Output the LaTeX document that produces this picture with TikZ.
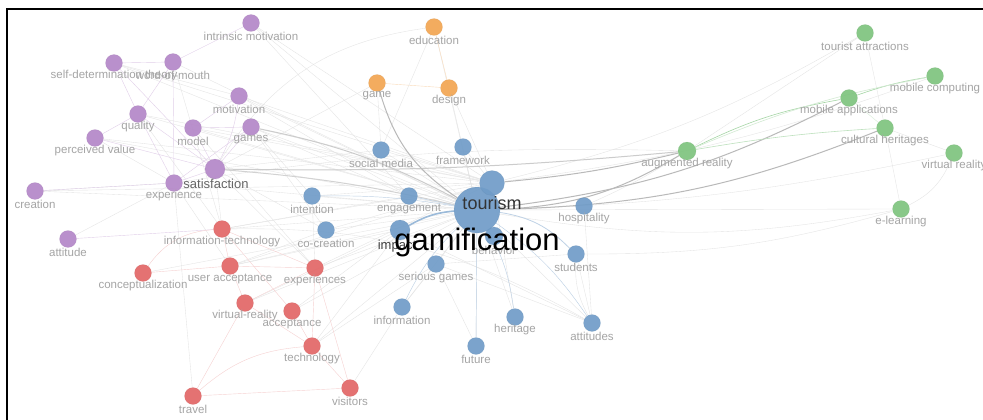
\documentclass[tikz,border=0pt]{standalone}
\usepackage{fontspec}
\setmainfont{Liberation Sans}
\usetikzlibrary{backgrounds}
\definecolor{purp}{RGB}{180,135,200}
\definecolor{blu}{RGB}{112,156,200}
\definecolor{rd}{RGB}{226,102,102}
\definecolor{grn}{RGB}{126,196,126}
\definecolor{org}{RGB}{242,166,82}
\definecolor{labc}{RGB}{165,165,165}
\begin{document}
\begin{tikzpicture}[x=1pt,y=-1pt,
  bub/.style={circle,inner sep=0pt,minimum size=17pt,fill=#1,fill opacity=0.92,draw=#1!85!black,draw opacity=0.25,line width=0.4pt},
  lab/.style={text=labc,font=\fontsize{11.5}{11.5}\selectfont,inner sep=0pt},
  e/.style={draw=gray!22,line width=0.35pt},
  eg/.style={draw=gray!55,line width=1pt},
  ep/.style={draw=purp!40,line width=0.4pt},
  er/.style={draw=rd!30,line width=0.4pt},
  eb/.style={draw=blu!45,line width=0.45pt},
  egr/.style={draw=grn!70,line width=0.6pt},
  eo/.style={draw=org!40,line width=0.4pt}]
\useasboundingbox (0,0) rectangle (983,420);

% nodes: purple
\node[bub=purp] (intr) at (251,23) {};
\node[bub=purp] (sdt) at (114,63) {};
\node[bub=purp] (wom) at (173,62) {};
\node[bub=purp] (mot) at (239,96) {};
\node[bub=purp] (qual) at (138,114) {};
\node[bub=purp] (model) at (193,128) {};
\node[bub=purp] (games) at (251,127) {};
\node[bub=purp] (pv) at (95,138) {};
\node[bub=purp,minimum size=20pt] (sat) at (215,169) {};
\node[bub=purp] (exp) at (174,183) {};
\node[bub=purp] (creat) at (35,191) {};
\node[bub=purp] (att) at (68,239) {};
% orange
\node[bub=org] (edu) at (434,27) {};
\node[bub=org] (game) at (377,83) {};
\node[bub=org] (design) at (449,88) {};
% blue
\node[bub=blu] (smed) at (381,150) {};
\node[bub=blu] (frame) at (463,147) {};
\node[bub=blu] (inten) at (312,196) {};
\node[bub=blu] (eng) at (409,196) {};
\node[bub=blu,minimum size=18pt] (beh) at (494,236) {};
\node[bub=blu,minimum size=20pt] (imp) at (400,230) {};
\node[bub=blu,minimum size=46pt] (gam) at (477,210) {};
\node[bub=blu,minimum size=25pt] (tour) at (492,183) {};
\node[bub=blu] (cocr) at (326,230) {};
\node[bub=blu] (hosp) at (584,206) {};
\node[bub=blu] (stud) at (576,254) {};
\node[bub=blu] (sg) at (436,264) {};
\node[bub=blu] (info) at (402,307) {};
\node[bub=blu] (her) at (515,317) {};
\node[bub=blu] (atts) at (592,323) {};
\node[bub=blu] (fut) at (476,346) {};
% red
\node[bub=rd] (itech) at (222,229) {};
\node[bub=rd] (ua) at (230,266) {};
\node[bub=rd] (conc) at (143,273) {};
\node[bub=rd] (exps) at (315,268) {};
\node[bub=rd] (vr) at (245,303) {};
\node[bub=rd] (acc) at (292,311) {};
\node[bub=rd] (tech) at (312,346) {};
\node[bub=rd] (vis) at (350,388) {};
\node[bub=rd] (trav) at (193,396) {};
% green
\node[bub=grn] (ta) at (865,33) {};
\node[bub=grn] (mc) at (935,76) {};
\node[bub=grn] (ma) at (849,98) {};
\node[bub=grn] (ch) at (885,128) {};
\node[bub=grn,minimum size=18pt] (ar) at (687,151) {};
\node[bub=grn] (vrr) at (954,153) {};
\node[bub=grn] (el) at (901,209) {};

% edges
\begin{pgfonlayer}{background}
\fill[white] (0,0) rectangle (983,420);
\foreach \a/\b in {sdt/gam,wom/gam,mot/gam,games/gam,games/tour,model/gam,qual/gam,pv/gam,creat/gam,intr/gam,intr/eng,games/eng,exp/gam,mot/tour,sdt/tour,qual/tour,model/tour,pv/tour,creat/tour,
  inten/gam,smed/gam,frame/gam,cocr/gam,hosp/gam,sg/gam,info/gam,her/gam,atts/gam,fut/gam,itech/gam,ua/gam,exps/gam,vr/gam,acc/gam,tech/gam,
  vis/info,tech/sg,exps/tour,itech/tour,ua/tour,cocr/tour,inten/tour,smed/tour,edu/gam,design/gam,design/tour,frame/tour,
  gam/el,stud/atts,hosp/atts,sg/atts,imp/atts,sat/itech,sat/cocr,sat/exps,exp/ua,exp/trav,games/inten,games/cocr,mot/eng,wom/itech,model/exps,qual/itech,
  inten/exps,cocr/ua,itech/eng,sg/stud,info/sg,fut/sg,her/tour,intr/tour,sdt/mot,pv/exp,smed/sat,game/smed,game/sat,edu/smed,creat/exp,att/exp,conc/gam,ua/imp,vr/imp,acc/imp,tech/imp}
  \draw[e] (\a) -- (\b);
\draw[e] (tour) to[bend right=8] (ta);
\draw[e] (tour) to[bend right=6] (mc);
\draw[e] (gam) to[bend right=5] (vrr);
\draw[e] (gam) to[bend right=10] (el);
\draw[e] (stud) to[bend right=8] (el);
\draw[e] (hosp) to[bend right=4] (ar);
\draw[e] (exp) to[bend left=5] (ar);
\draw[e] (ta) -- (ch);
\draw[e] (ch) -- (vrr);
\draw[e] (ch) -- (el);
\draw[e] (vrr) to[bend left=20] (el);
\draw[e] (ar) -- (ta);
\draw[e] (edu) to[bend right=25] (sat);
\draw[e] (stud) to[bend right=15] (atts);
\draw[e] (itech) to[bend left=15] (atts);
\draw[eg] (gam) to[bend right=14] (ar);
\draw[eg] (gam) to[bend right=10] (ch);
\draw[eg] (gam) to[bend right=10] (ma);
\draw[eg] (tour) to[bend right=4] (ar);
\draw[eg,draw=gray!40] (sat) to[bend right=3] (ar);
\draw[eg] (game) to[bend right=20] (gam);
\draw[eg,draw=gray!40] (games) to[bend left=8] (gam);
\draw[eg,draw=gray!35] (sat) to[bend left=4] (gam);
\draw[eb,line width=2pt,draw=blu!75] (gam) -- (tour);
\draw[eb,line width=1.6pt,draw=blu!70] (imp) to[bend left=12] (gam);
\draw[eb,line width=0.8pt] (gam) to[bend left=18] (stud);
\draw[eb] (eng) -- (gam);
\draw[eb] (inten) to[bend left=5] (gam);
\draw[eb] (beh) -- (gam);
\draw[eb] (gam) to[bend left=10] (her);
\draw[eb] (gam) -- (fut);
\draw[eb] (gam) to[bend right=10] (info);
\draw[eb] (gam) to[bend left=10] (atts);
\draw[ep] (sat) -- (exp);
\draw[ep] (sat) to[bend right=10] (mot);
\draw[ep] (sat) -- (qual);
\draw[ep] (sat) -- (games);
\draw[ep] (sat) -- (model);
\draw[ep] (sat) -- (pv);
\draw[ep] (model) -- (games);
\draw[ep] (qual) -- (pv);
\draw[ep] (sdt) -- (wom);
\draw[ep] (sdt) -- (qual);
\draw[ep] (wom) -- (qual);
\draw[ep] (wom) -- (exp);
\draw[ep] (intr) -- (wom);
\draw[ep] (qual) -- (exp);
\draw[ep] (exp) -- (games);
\draw[ep] (exp) -- (creat);
\draw[ep] (sdt) -- (sat);
\draw[ep] (mot) -- (model);
\draw[ep] (att) -- (itech);
\draw[er] (conc) -- (ua);
\draw[er] (conc) to[bend left=25] (itech);
\draw[er] (ua) -- (exps);
\draw[er] (ua) -- (vr);
\draw[er] (itech) -- (ua);
\draw[er] (itech) -- (acc);
\draw[er] (vr) -- (tech);
\draw[er] (vr) -- (exps);
\draw[er] (acc) -- (tech);
\draw[er] (exps) -- (tech);
\draw[er] (exps) -- (vis);
\draw[er] (tech) -- (vis);
\draw[er] (trav) to[bend left=18] (tech);
\draw[er] (trav) -- (vis);
\draw[er] (trav) -- (vr);
\draw[er] (itech) -- (exps);
\draw[egr] (ar) to[bend left=8] (ma);
\draw[egr,draw=grn!50] (ar) to[bend left=3] (ch);
\draw[egr] (ma) to[bend left=5] (mc);
\draw[egr,draw=grn!35] (ar) to[bend left=6] (mc);
\draw[egr,draw=grn!30,line width=0.4pt] (ma) -- (ch);
\draw[eo] (edu) -- (design);
\draw[eo] (game) -- (design);
\end{pgfonlayer}

\draw[black,line width=1.5pt] (983,9) coordinate (fr1) -- (7,9) coordinate (fr0) -- (7,420) coordinate (fr2);

% labels
\node[lab] (Lintr) at (251,36) {intrinsic motivation};
\node[lab] (Lsdt) at (114,76) {self-determination theory};
\node[lab] (Lwom) at (173,75) {word-of-mouth};
\node[lab] (Lmot) at (239,109) {motivation};
\node[lab] (Lqual) at (138,127) {quality};
\node[lab] (Lmodel) at (193,141) {model};
\node[lab] (Lgames) at (251,140) {games};
\node[lab] (Lpv) at (95,151) {perceived value};
\node[lab] (Lexp) at (174,196) {experience};
\node[lab] (Lcreat) at (35,204) {creation};
\node[lab] (Latt) at (68,252) {attitude};
\node[lab] (Ledu) at (434,40) {education};
\node[lab] (Lgame) at (377,96) {game};
\node[lab] (Ldesign) at (449,101) {design};
\node[lab] (Lsmed) at (381,163) {social media};
\node[lab] (Lframe) at (463,160) {framework};
\node[lab] (Linten) at (312,209) {intention};
\node[lab] (Leng) at (409,209) {engagement};
\node[lab] (Lbeh) at (494,250) {behavior};
\node[lab] (Lcocr) at (326,243) {co-creation};
\node[lab] (Lhosp) at (584,219) {hospitality};
\node[lab] (Lstud) at (576,267) {students};
\node[lab] (Lsg) at (436,278) {serious games};
\node[lab] (Linfo) at (402,320) {information};
\node[lab] (Lher) at (515,330) {heritage};
\node[lab] (Latts) at (592,336) {attitudes};
\node[lab] (Lfut) at (476,359) {future};
\node[lab] (Litech) at (222,242) {information-technology};
\node[lab] (Lua) at (230,279) {user acceptance};
\node[lab] (Lconc) at (143,286) {conceptualization};
\node[lab] (Lexps) at (315,281) {experiences};
\node[lab] (Lvr) at (245,316) {virtual-reality};
\node[lab] (Lacc) at (292,324) {acceptance};
\node[lab] (Ltech) at (312,359) {technology};
\node[lab] (Lvis) at (350,401) {visitors};
\node[lab] (Ltrav) at (193,409) {travel};
\node[lab] (Lta) at (865,46) {tourist attractions};
\node[lab] (Lmc) at (935,89) {mobile computing};
\node[lab] (Lma) at (849,111) {mobile applications};
\node[lab] (Lch) at (885,141) {cultural heritages};
\node[lab] (Lar) at (687,164) {augmented reality};
\node[lab] (Lvrr) at (954,166) {virtual reality};
\node[lab] (Lel) at (901,222) {e-learning};
% prominent labels
\node[lab,text=black!60,font=\fontsize{13}{13}\selectfont] (Lsat) at (216,184) {satisfaction};
\node[lab,text=black!75,font=\fontsize{13}{13}\selectfont] (Limp) at (397,246) {impact};
\node[lab,text=black!80,font=\fontsize{18}{18}\selectfont] (Ltour) at (492,203) {tourism};
\node[lab,text=black,font=\fontsize{31}{31}\selectfont] (Lgam) at (477,242) {gamification};
\end{tikzpicture}
\end{document}
